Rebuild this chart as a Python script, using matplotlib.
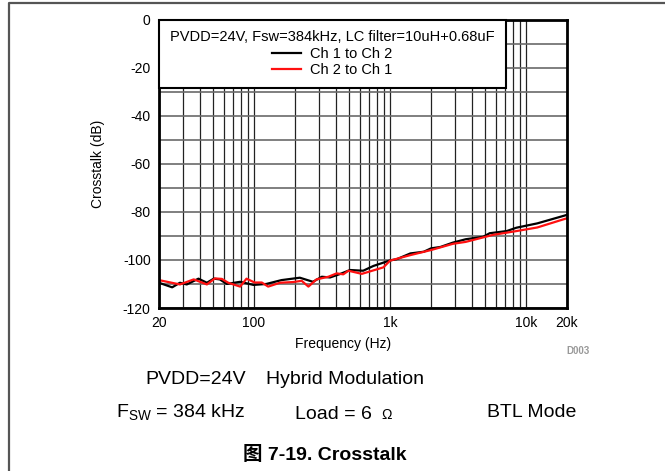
import matplotlib
matplotlib.use("Agg")
import matplotlib.pyplot as plt
from matplotlib.lines import Line2D
from matplotlib.ticker import FixedLocator, NullFormatter

plt.rcParams['font.family'] = ['Liberation Sans', 'Noto Sans CJK SC', 'DejaVu Sans']
plt.rcParams['mathtext.default'] = 'regular'
plt.rcParams['axes.unicode_minus'] = False

# ---- data ----
freq_ch1_to_ch2 = [20, 25, 28.5, 32, 39, 45, 50.5, 56, 63, 79, 99, 123, 159, 217, 271,
                   315, 362, 427, 508, 634, 755, 833, 1000, 1120, 1410, 1770, 2000,
                   2350, 2900, 3600, 4830, 5400, 7200, 8500, 12100, 19900]
db_ch1_to_ch2 = [-109.5, -111.4, -109.5, -110.2, -107.8, -109.5, -107.8, -108.1, -110.0,
                 -109.1, -110.4, -110.0, -108.4, -107.4, -109.1, -107.0, -107.3, -105.9,
                 -104.2, -104.5, -102.5, -101.7, -100.2, -99.7, -97.3, -96.6, -95.2,
                 -94.6, -92.8, -91.4, -90.4, -88.9, -88.0, -86.6, -84.8, -81.3]

freq_ch2_to_ch1 = [20, 28.5, 36, 45, 51.5, 58, 64.6, 79, 88, 101, 114, 127, 155, 194, 224,
                   251, 288, 352, 405, 453, 494, 620, 893, 1000, 1410, 2000, 2900,
                   3600, 5700, 8500, 12100, 19900]
db_ch2_to_ch1 = [-108.4, -110.2, -108.1, -110.2, -107.7, -107.9, -109.5, -111.1, -107.8,
                 -109.4, -109.4, -111.1, -109.5, -109.2, -108.7, -111.1, -108.1, -107.0,
                 -105.6, -106.0, -104.5, -105.8, -103.1, -100.3, -98.0, -95.9, -93.3,
                 -92.5, -89.6, -88.0, -86.5, -82.7]

x_major = [20, 100, 1000, 10000, 20000]
x_major_labels = ['20', '100', '1k', '10k', '20k']
x_minor = [30, 40, 50, 60, 70, 80, 90, 200, 300, 400, 500, 600, 700, 800, 900,
           2000, 3000, 4000, 5000, 6000, 7000, 8000, 9000]
y_ticks = [0, -20, -40, -60, -80, -100, -120]
y_grid = [-10, -30, -50, -70, -90, -110]

W, H = 665, 471
fig = plt.figure(figsize=(W / 100, H / 100), dpi=100)
L, R, T, B = 159, 567, 19.5, 308
ax = fig.add_axes([L / W, 1 - B / H, (R - L) / W, (B - T) / H])

ax.set_xscale('log')
ax.set_xlim(20, 20000)
ax.set_ylim(-120, 0)

ax.xaxis.set_major_locator(FixedLocator(x_major))
ax.set_xticklabels(x_major_labels)
ax.xaxis.set_minor_locator(FixedLocator(x_minor))
ax.xaxis.set_minor_formatter(NullFormatter())
ax.yaxis.set_major_locator(FixedLocator(y_ticks))
ax.yaxis.set_minor_locator(FixedLocator(y_grid))

ax.tick_params(axis='both', which='both', length=0, labelsize=10)
ax.tick_params(axis='x', pad=6)
ax.tick_params(axis='y', pad=6)

ax.grid(True, axis='x', which='both', color='#222222', lw=0.9)
ax.grid(True, axis='y', which='both', color='#6a6a6a', lw=1.2)
ax.set_axisbelow(True)

for s in ax.spines.values():
    s.set_linewidth(2.0)
    s.set_color('black')

l1, = ax.plot(freq_ch1_to_ch2, db_ch1_to_ch2, color='black', lw=1.6, label='Ch 1 to Ch 2')
l2, = ax.plot(freq_ch2_to_ch1, db_ch2_to_ch1, color='#ff1010', lw=1.6, label='Ch 2 to Ch 1')

leg = ax.legend(handles=[l1, l2], title='PVDD=24V, Fsw=384kHz, LC filter=10uH+0.68uF',
                loc='upper left', bbox_to_anchor=(0, 1), borderaxespad=0,
                fontsize=10.5, title_fontsize=10.5, frameon=True, fancybox=False,
                edgecolor='black', framealpha=1, handlelength=2.0, handletextpad=0.6,
                labelspacing=0.15, borderpad=0.75, alignment='center')
leg.get_frame().set_linewidth(1.5)

ax.set_xlabel('Frequency (Hz)', fontsize=10)
ax.xaxis.set_label_coords((343 - L) / (R - L), -(337 - B) / (B - T), transform=ax.transAxes)
ax.set_ylabel('Crosstalk (dB)', fontsize=10)
ax.yaxis.set_label_coords(-(L - 105) / (R - L), 0.5)


def fp(x, y):
    return x / W, 1 - y / H


fig.text(*fp(578, 351), 'D003', fontsize=7, color='#999999', fontweight='bold',
         ha='center', va='center')

fig.text(*fp(145, 384), 'PVDD=24V', fontsize=14, ha='left', va='baseline')
fig.text(*fp(266, 384), 'Hybrid Modulation', fontsize=14, ha='left', va='baseline')
fig.text(*fp(116, 417), 'F$_{SW}$ = 384 kHz', fontsize=14, ha='left', va='baseline')
fig.text(*fp(295, 419), 'Load = 6', fontsize=14, ha='left', va='baseline')
fig.text(*fp(381, 419), 'Ω', fontsize=10, ha='left', va='baseline')
fig.text(*fp(487, 417), 'BTL Mode', fontsize=14, ha='left', va='baseline')
fig.text(*fp(324.5, 460), '图 7-19. Crosstalk', fontsize=14, fontweight='bold',
         ha='center', va='baseline')

# outer frame (left and top)
fig.add_artist(Line2D([8.5 / W, 8.5 / W, 1], [0, 1 - 2.5 / H, 1 - 2.5 / H],
                      transform=fig.transFigure, color='#555555', lw=1.6))

fig.savefig('out.png', dpi=100)
